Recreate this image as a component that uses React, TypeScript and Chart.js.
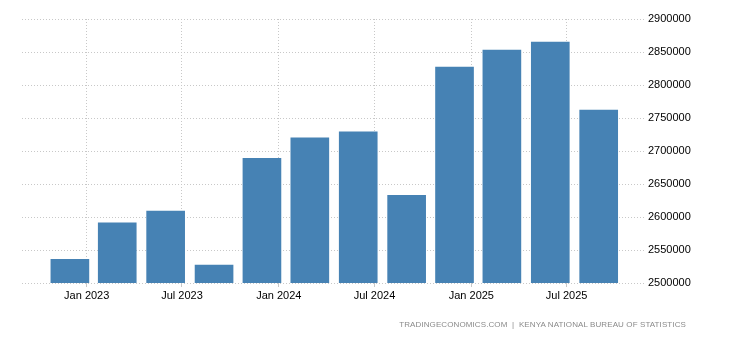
import React, { useEffect, useRef } from "react";
import { Chart, registerables } from "chart.js";

Chart.register(...registerables);

const barDates = [
  "2022-11-30", "2023-02-28", "2023-05-31", "2023-08-31",
  "2023-11-30", "2024-02-29", "2024-05-31", "2024-08-31",
  "2024-11-30", "2025-02-28", "2025-05-31", "2025-08-31",
];
const values = [
  2536000, 2591000, 2609000, 2527000,
  2689000, 2720000, 2729000, 2633000,
  2827000, 2853000, 2865000, 2762000,
];
const tickDates = ["2023-01-01", "2023-07-01", "2024-01-01", "2024-07-01", "2025-01-01", "2025-07-01"];
const tickLabels = ["Jan 2023", "Jul 2023", "Jan 2024", "Jul 2024", "Jan 2025", "Jul 2025"];
const axisStart = "2022-08-31";
const axisEnd = "2025-11-27";
const yMin = 2500000;
const yMax = 2900000;
const yStep = 50000;
const sourceText = "TRADINGECONOMICS.COM  |  KENYA NATIONAL BUREAU OF STATISTICS";

const ts = (s: string) => Date.parse(s + "T00:00:00Z");

export default function App() {
  const ref = useRef<HTMLCanvasElement | null>(null);
  useEffect(() => {
    if (!ref.current) return;
    const tickTs = tickDates.map(ts);
    const chart = new Chart(ref.current, {
      type: "bar",
      data: {
        datasets: [
          {
            data: barDates.map((d, i) => ({ x: ts(d), y: values[i] })),
            backgroundColor: "#4682b4",
            barThickness: 38,
          },
        ],
      },
      options: {
        animation: false,
        responsive: false,
        layout: { padding: { left: 22, top: 19, right: 0, bottom: 0 } },
        plugins: { legend: { display: false }, tooltip: { enabled: false } },
        scales: {
          x: {
            type: "linear",
            min: ts(axisStart),
            max: ts(axisEnd),
            offset: false,
            afterBuildTicks: (scale: any) => {
              scale.ticks = tickTs.map((v) => ({ value: v }));
            },
            afterFit: (scale: any) => {
              scale.height = 57;
            },
            ticks: {
              autoSkip: false,
              maxRotation: 0,
              padding: 2,
              color: "#000",
              font: { family: "Arial, 'Liberation Sans'", size: 11 },
              callback: (v: any) => {
                const i = tickTs.indexOf(Number(v));
                return i >= 0 ? tickLabels[i] : "";
              },
            },
            grid: {
              offset: false,
              color: "#c8c8c8",
              lineWidth: 1,
              tickLength: 4,
              drawTicks: true,
            },
            border: { display: false, dash: [1, 2] },
          },
          y: {
            position: "right",
            min: yMin,
            max: yMax,
            afterFit: (scale: any) => {
              scale.width = 85;
            },
            ticks: {
              stepSize: yStep,
              padding: 3,
              color: "#000",
              font: { family: "Arial, 'Liberation Sans'", size: 11 },
              callback: (v: any) => String(v),
            },
            grid: { color: "#c8c8c8", lineWidth: 1, drawTicks: false },
            border: { display: false, dash: [1, 2] },
          },
        },
      } as any,
    });
    return () => chart.destroy();
  }, []);
  return (
    <div style={{ position: "fixed", left: 0, top: 0, width: 730, height: 340, background: "#fff" }}>
      <canvas ref={ref} width={730} height={340} style={{ width: 730, height: 340 }} />
      <div
        style={{
          position: "absolute",
          right: 44,
          top: 320,
          fontFamily: "Arial, 'Liberation Sans'",
          fontSize: 8,
          color: "#8a8a8a",
          whiteSpace: "pre",
          letterSpacing: 0.1,
        }}
      >
        {sourceText}
      </div>
    </div>
  );
}
